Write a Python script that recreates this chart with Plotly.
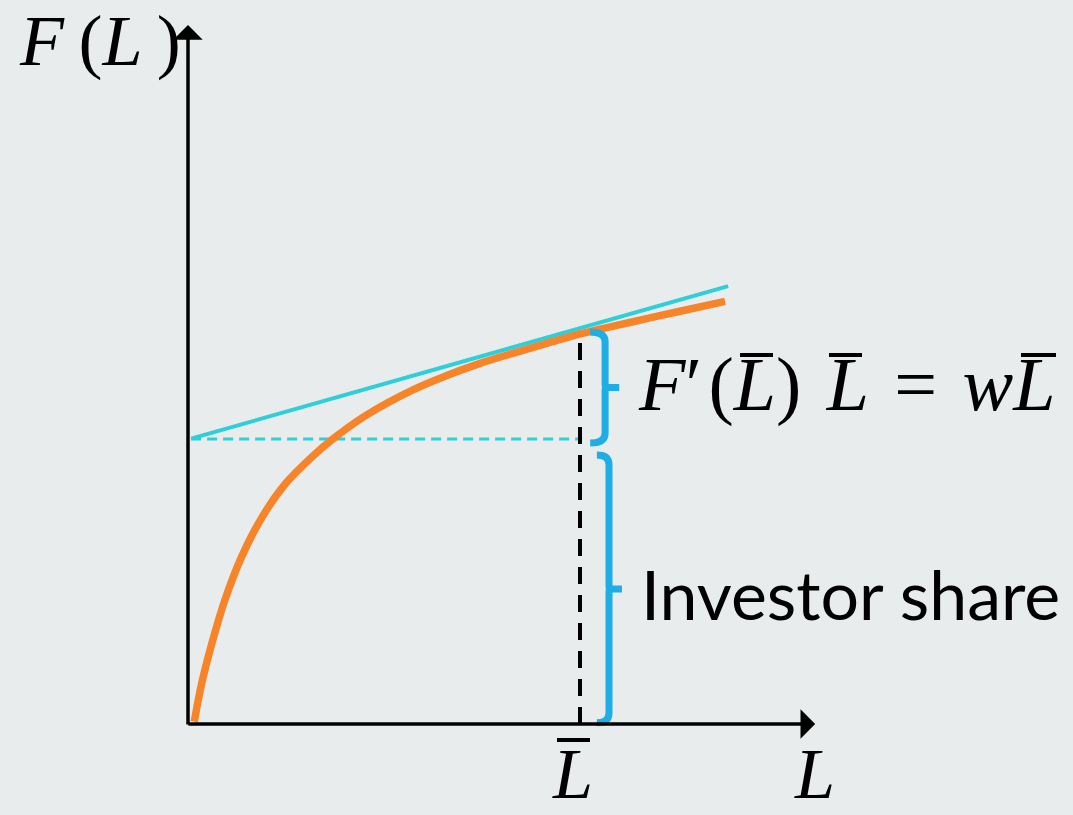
import plotly.graph_objects as go

# ---------------- data (chart units) ----------------
# production function F(L)
L_vals = [0.16, 0.35, 0.61, 0.94, 1.37, 1.88, 2.47, 3.16, 3.67, 4.52, 5.75,
          6.60, 7.45, 8.30, 9.15, 10.0, 10.85, 11.70, 12.55, 13.70]
F_vals = [0.06, 1.04, 2.06, 3.16, 4.27, 5.26, 6.11, 6.81, 7.25, 7.86, 8.53,
          8.89, 9.20, 9.46, 9.71, 9.95, 10.15, 10.34, 10.53, 10.78]

# tangent line at L-bar
tangent_L = [0.08, 13.78]
tangent_F = [7.28, 11.17]

L_bar = 10.0
F_bar = 9.97
intercept = 7.27

x_axis_end = 16.0
y_axis_end = 17.83

# braces: [bottom, top] spans, and x of (end, stroke, tip)
brace_upper = [7.17, 10.0]
brace_lower = [0.03, 6.86]
brace_upper_x = [10.26, 10.64, 11.00]
brace_lower_x = [10.43, 10.74, 11.07]

# ---------------- styling ----------------
BG = "#E8ECEC"
ORANGE = "#F8842A"
CYAN = "#2ECFD8"
BLUE = "#1EADE5"
MATH = "Liberation Serif"

SCALE = 39.2  # px per unit
X0_PX, Y0_PX = 188, 724
W, H = 1073, 815

fig = go.Figure()

# dashed horizontal (cyan) at the intercept
fig.add_trace(go.Scatter(x=[0.08, L_bar], y=[intercept, intercept], mode="lines",
                         line=dict(color=CYAN, width=3, dash="10px,6px"), hoverinfo="skip"))
# dashed vertical (black) at L-bar
fig.add_trace(go.Scatter(x=[L_bar, L_bar], y=[0, F_bar], mode="lines",
                         line=dict(color="black", width=4, dash="17px,11px"), hoverinfo="skip"))
# tangent
fig.add_trace(go.Scatter(x=tangent_L, y=tangent_F, mode="lines",
                         line=dict(color=CYAN, width=4), hoverinfo="skip"))
# production function
fig.add_trace(go.Scatter(x=L_vals, y=F_vals, mode="lines", line_shape="spline",
                         line=dict(color=ORANGE, width=7.5), hoverinfo="skip"))


def brace_path(span, xs):
    y0, y1 = span
    xe, xv, xt = xs
    ym = (y0 + y1) / 2
    r = 0.25
    r2 = 0.06
    return (f"M{xe},{y1} Q{xv},{y1} {xv},{y1 - r} L{xv},{ym + r2} "
            f"Q{xv},{ym} {xv + r2},{ym} L{xt},{ym} L{xv + r2},{ym} Q{xv},{ym} {xv},{ym - r2} "
            f"L{xv},{y0 + r} Q{xv},{y0} {xe},{y0}")


for span, xs in [(brace_upper, brace_upper_x), (brace_lower, brace_lower_x)]:
    fig.add_shape(type="path", path=brace_path(span, xs), xref="x", yref="y",
                  line=dict(color=BLUE, width=7))

# axes with arrowheads
fig.add_annotation(x=x_axis_end, y=0, ax=-0.03, ay=0, xref="x", yref="y", axref="x", ayref="y",
                   text="", showarrow=True, arrowhead=1, arrowsize=1.4, arrowwidth=3.5,
                   arrowcolor="black")
fig.add_annotation(x=0, y=y_axis_end, ax=0, ay=-0.05, xref="x", yref="y", axref="x", ayref="y",
                   text="", showarrow=True, arrowhead=1, arrowsize=1.4, arrowwidth=3.5,
                   arrowcolor="black")

TS = "\u2009"
HS = "\u200a"


def at(xp, yp, xanchor="center", yanchor="middle"):
    return dict(x=xp / W, y=1 - yp / H, xref="paper", yref="paper",
                xanchor=xanchor, yanchor=yanchor, showarrow=False, borderpad=0)


def overline(x0p, x1p, yp):
    fig.add_shape(type="line", xref="paper", yref="paper",
                  x0=x0p / W, x1=x1p / W, y0=1 - yp / H, y1=1 - yp / H,
                  line=dict(color="black", width=4))


# labels
fig.add_annotation(**at(100, 41), text=f"<i>F</i>{TS}(<i>L</i>{TS})",
                   font=dict(family=MATH, size=72, color="black"))
fig.add_annotation(**at(846, 385),
                   text=f"<i>F</i>′{HS}(<i>L</i>){HS} <i>L</i> {HS}={HS} <i>wL</i>",
                   font=dict(family=MATH, size=76, color="black"))
overline(740, 773, 355)
overline(829, 862, 355)
overline(1021, 1056, 355)

fig.add_annotation(**at(850, 593), text="Investor share",
                   font=dict(family="Lato", size=68, color="black"))
fig.add_annotation(**at(572, 815, yanchor="bottom"), text="<i>L</i>",
                   font=dict(family=MATH, size=72, color="black"))
overline(557, 590, 740)
fig.add_annotation(**at(814, 815, yanchor="bottom"), text="<i>L</i>",
                   font=dict(family=MATH, size=72, color="black"))

fig.update_layout(
    width=W, height=H,
    margin=dict(l=0, r=0, t=0, b=0),
    paper_bgcolor=BG, plot_bgcolor=BG,
    showlegend=False,
    xaxis=dict(range=[-X0_PX / SCALE, (W - X0_PX) / SCALE], visible=False, fixedrange=True),
    yaxis=dict(range=[-(H - Y0_PX) / SCALE, Y0_PX / SCALE], visible=False, fixedrange=True),
)

fig.write_html("out.html", config={"displayModeBar": False},
               post_script="document.body.style.margin='0';document.body.style.overflow='hidden';")
